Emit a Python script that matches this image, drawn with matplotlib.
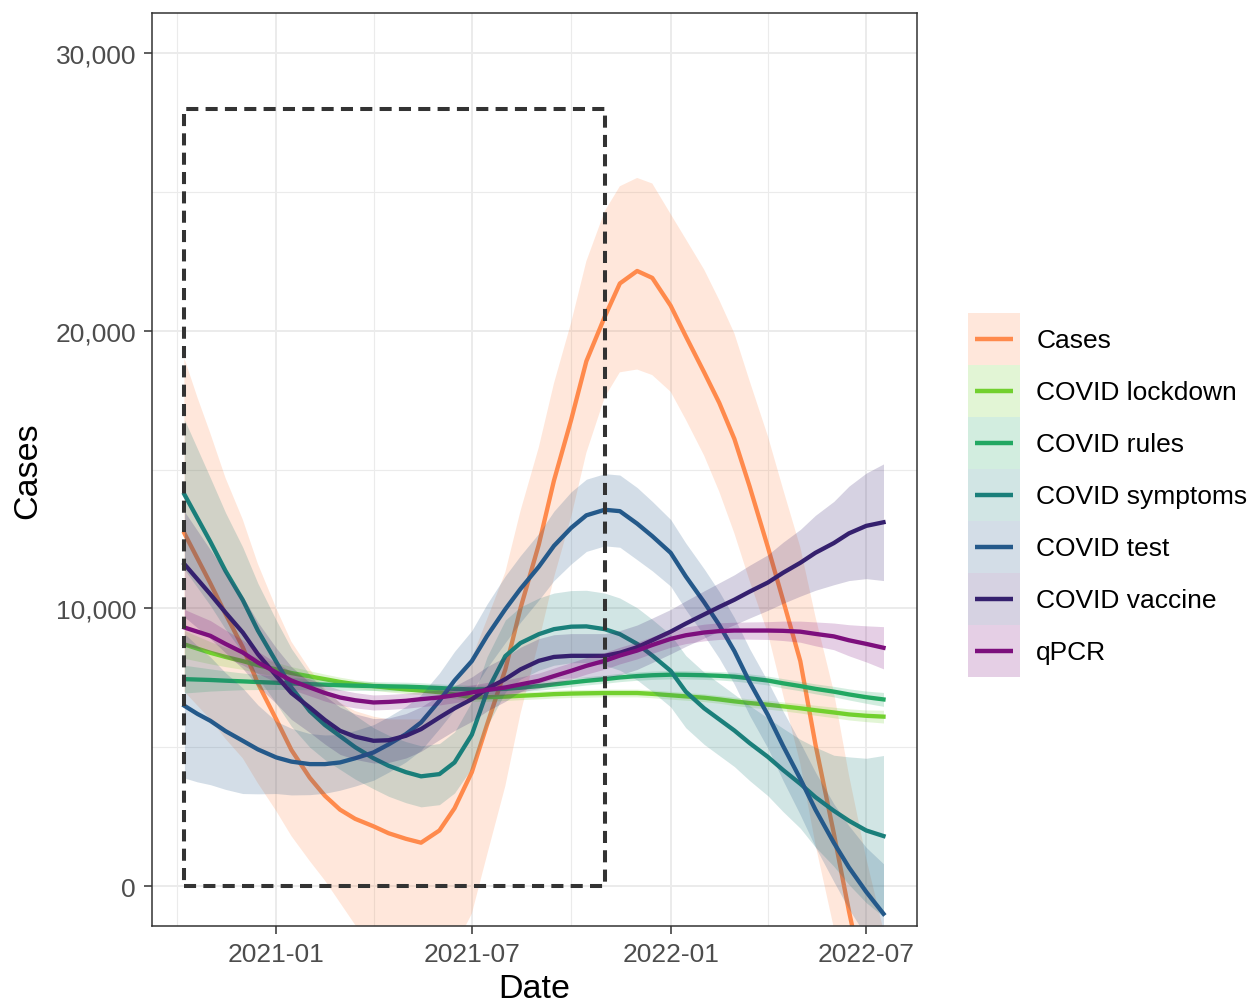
import numpy as np
import pandas as pd
import matplotlib
matplotlib.use('Agg')
import matplotlib.pyplot as plt
import matplotlib.dates as mdates
from matplotlib.patches import Rectangle
from matplotlib.lines import Line2D
from matplotlib.ticker import FuncFormatter, FixedLocator
from matplotlib.legend_handler import HandlerBase

plt.rcParams['font.family'] = ['Liberation Sans', 'DejaVu Sans']

# ---------------- data ----------------
dates = pd.to_datetime([
    '2020-10-08', '2020-10-20', '2020-11-01', '2020-11-15', '2020-12-01', '2020-12-15',
    '2021-01-01', '2021-01-15', '2021-02-01', '2021-02-15', '2021-03-01', '2021-03-15',
    '2021-04-01', '2021-04-15', '2021-05-01', '2021-05-15', '2021-06-01', '2021-06-15',
    '2021-07-01', '2021-07-15', '2021-08-01', '2021-08-15', '2021-09-01', '2021-09-15',
    '2021-10-01', '2021-10-15', '2021-11-01', '2021-11-15', '2021-12-01', '2021-12-15',
    '2022-01-01', '2022-01-15', '2022-02-01', '2022-02-15', '2022-03-01', '2022-03-15',
    '2022-04-01', '2022-04-15', '2022-05-01', '2022-05-15', '2022-06-01', '2022-06-15',
    '2022-07-01', '2022-07-17'])

series_names = ['Cases', 'COVID lockdown', 'COVID rules', 'COVID symptoms',
                'COVID test', 'COVID vaccine', 'qPCR']
series_colors = ['#FF8A4C', '#72D02E', '#22A862', '#1A7F7A', '#24598A', '#35206E', '#7D0F7D']

cases = [12700, 11800, 10900, 9800, 8600, 7300, 6000, 4900, 3900, 3250, 2750, 2420,
         2150, 1900, 1700, 1560, 2000, 2800, 4100, 5800, 7800, 10000, 12300, 14600,
         16800, 18900, 20500, 21700, 22150, 21900, 20900, 19800, 18500, 17400, 16100, 14400,
         12200, 10300, 8100, 5100, 1900, -900, -3800, -6600]
cases_lo = [7000, 6500, 6000, 5300, 4600, 3700, 2700, 1800, 900, 200, -600, -1400,
            -2300, -3000, -3600, -4000, -3600, -2200, -1000, 1100, 3600, 6200, 8800, 11100,
            13300, 15600, 17600, 18500, 18600, 18400, 17800, 16800, 15500, 14200, 12700, 11000,
            9100, 6900, 4400, 1500, -1500, -4500, -8000, -11500]
cases_hi = [19000, 17600, 16300, 14700, 13200, 11600, 10000, 8800, 7800, 7100, 6600, 6300,
            6100, 6000, 6000, 6000, 6500, 7200, 8200, 9600, 11300, 13500, 15800, 18100,
            20300, 22500, 24300, 25200, 25500, 25300, 24200, 23300, 22200, 21100, 19900, 18200,
            16200, 14300, 12200, 9700, 7000, 4000, 1000, -1600]

lockdown = [8700, 8550, 8400, 8250, 8100, 7950, 7800, 7670, 7550, 7450, 7350, 7270,
            7200, 7140, 7080, 7040, 6980, 6900, 6800, 6800, 6820, 6850, 6880, 6910,
            6930, 6940, 6950, 6950, 6950, 6920, 6870, 6830, 6780, 6720, 6650, 6590,
            6530, 6470, 6400, 6330, 6250, 6180, 6130, 6100]
lockdown_ci = [500, 450, 400, 350, 300, 280, 250, 230, 200, 180, 170, 160,
               150, 150, 150, 150, 150, 150, 150, 150, 140, 140, 140, 140,
               140, 140, 140, 140, 140, 140, 140, 140, 140, 140, 150, 150,
               160, 160, 170, 180, 190, 200, 210, 230]

rules = [7450, 7435, 7420, 7395, 7370, 7345, 7320, 7295, 7270, 7250, 7230, 7215,
         7200, 7190, 7180, 7160, 7130, 7100, 7080, 7085, 7100, 7140, 7200, 7260,
         7330, 7390, 7450, 7510, 7560, 7590, 7610, 7605, 7590, 7570, 7540, 7480,
         7400, 7300, 7200, 7100, 7000, 6900, 6800, 6720]
rules_ci = [500, 450, 400, 350, 300, 270, 240, 220, 200, 190, 180, 170,
            160, 160, 160, 160, 150, 150, 150, 150, 150, 150, 150, 150,
            150, 150, 150, 150, 150, 150, 150, 150, 150, 150, 160, 160,
            160, 170, 170, 180, 190, 200, 220, 250]

symptoms = [14100, 13250, 12400, 11350, 10300, 9200, 8070, 7150, 6300, 5800, 5400, 5000,
            4600, 4330, 4100, 3950, 4030, 4450, 5450, 7000, 8280, 8750, 9070, 9250,
            9340, 9350, 9250, 9070, 8720, 8300, 7750, 7000, 6400, 6000, 5600, 5150,
            4650, 4180, 3680, 3200, 2710, 2350, 2000, 1800]
symptoms_ci = [2700, 2500, 2300, 2100, 1900, 1700, 1500, 1400, 1300, 1250, 1200, 1150,
               1100, 1100, 1100, 1100, 1100, 1100, 1200, 1250, 1300, 1300, 1300, 1300,
               1300, 1300, 1300, 1300, 1300, 1300, 1300, 1300, 1300, 1300, 1300, 1350,
               1400, 1500, 1600, 1800, 2000, 2300, 2600, 2900]

test = [6490, 6200, 5950, 5580, 5230, 4920, 4630, 4480, 4390, 4390, 4450, 4600,
        4810, 5100, 5470, 5890, 6670, 7400, 8100, 9000, 9970, 10700, 11500, 12250,
        12900, 13350, 13550, 13500, 13050, 12600, 12000, 11150, 10220, 9400, 8460, 7350,
        6160, 5050, 3860, 2750, 1560, 670, -210, -1000]
test_ci = [2600, 2450, 2300, 2100, 1900, 1600, 1300, 1200, 1100, 1050, 1000, 1000,
           1000, 1000, 1000, 1000, 1000, 1050, 1100, 1150, 1200, 1200, 1200, 1250,
           1300, 1300, 1300, 1300, 1300, 1250, 1200, 1200, 1200, 1200, 1200, 1200,
           1200, 1250, 1300, 1350, 1400, 1500, 1600, 1800]

vaccine = [11590, 11050, 10510, 9850, 9130, 8350, 7570, 6950, 6430, 5980, 5590, 5380,
           5230, 5250, 5410, 5650, 6070, 6400, 6730, 7100, 7450, 7800, 8110, 8250,
           8290, 8290, 8290, 8400, 8600, 8850, 9160, 9450, 9780, 10050, 10310, 10600,
           10930, 11280, 11640, 12000, 12350, 12700, 12970, 13100]
vaccine_ci = [1900, 1750, 1600, 1450, 1300, 1150, 1000, 950, 900, 870, 850, 820,
              800, 800, 800, 800, 800, 800, 800, 800, 800, 800, 800, 800,
              800, 800, 800, 800, 800, 800, 800, 820, 850, 870, 900, 950,
              1000, 1100, 1200, 1350, 1500, 1700, 1900, 2100]

qpcr = [9310, 9160, 9010, 8720, 8410, 8050, 7690, 7400, 7150, 6950, 6790, 6690,
        6610, 6630, 6670, 6730, 6790, 6870, 6970, 7060, 7150, 7260, 7390, 7560,
        7750, 7930, 8110, 8300, 8480, 8680, 8900, 9030, 9130, 9180, 9200, 9200,
        9200, 9190, 9160, 9080, 8990, 8850, 8720, 8580]
qpcr_ci = [650, 600, 550, 500, 450, 400, 350, 320, 300, 290, 280, 275,
           270, 270, 270, 270, 270, 270, 270, 270, 270, 270, 280, 290,
           300, 300, 300, 300, 300, 300, 300, 300, 300, 300, 300, 310,
           320, 350, 380, 430, 480, 560, 650, 760]

box_dates = pd.to_datetime(['2020-10-08', '2021-11-01'])
box_values = [0, 28000]

x_major = pd.to_datetime(['2021-01-01', '2021-07-01', '2022-01-01', '2022-07-01'])
x_minor = pd.to_datetime(['2020-10-01', '2021-04-01', '2021-10-01', '2022-04-01'])
y_major = [0, 10000, 20000, 30000]
y_minor = [5000, 15000, 25000]


class KeyHandler(HandlerBase):
    """ggplot-like legend key: translucent ribbon square with a centred line."""
    def create_artists(self, legend, orig_handle, xdescent, ydescent, width, height,
                       fontsize, trans):
        col = orig_handle.get_color()
        rect = Rectangle((-xdescent, -ydescent), width, height, facecolor=col,
                         alpha=0.2, edgecolor='none', transform=trans)
        yc = -ydescent + height / 2
        line = Line2D([-xdescent + 0.13 * width, -xdescent + 0.87 * width], [yc, yc],
                      color=col, lw=3.2, solid_capstyle='butt', transform=trans)
        return [rect, line]


# ---------------- figure ----------------
W, H = 1252, 1003
fig = plt.figure(figsize=(W / 100, H / 100), dpi=100)
ax = fig.add_axes([152 / W, 1 - 927 / H, (917 - 152) / W, (927 - 14) / H])

mids = [cases, lockdown, rules, symptoms, test, vaccine, qpcr]
cis = [None, lockdown_ci, rules_ci, symptoms_ci, test_ci, vaccine_ci, qpcr_ci]

handles = []
for i, (name, col) in enumerate(zip(series_names, series_colors)):
    m = np.asarray(mids[i], dtype=float)
    if cis[i] is None:
        lo, hi = np.asarray(cases_lo, float), np.asarray(cases_hi, float)
    else:
        c = np.asarray(cis[i], dtype=float)
        lo, hi = m - c, m + c
    ax.fill_between(dates, lo, hi, color=col, alpha=0.2, lw=0, zorder=2 + i * 0.1)
    ax.plot(dates, m, color=col, lw=3.1, solid_joinstyle='round', zorder=2.05 + i * 0.1)
    handles.append(Line2D([0], [0], color=col, lw=3.2))

# dashed box
bx0 = mdates.date2num(box_dates[0])
bx1 = mdates.date2num(box_dates[1])
ax.add_patch(Rectangle((bx0, box_values[0]), bx1 - bx0, box_values[1] - box_values[0],
                       fill=False, edgecolor='#333333', lw=2.9, ls=(0, (3.0, 1.8)), zorder=5))

ax.set_xlim(pd.Timestamp('2020-09-08'), pd.Timestamp('2022-08-17'))
ax.set_ylim(-1440, 31440)

ax.xaxis.set_major_locator(FixedLocator(mdates.date2num(x_major)))
ax.xaxis.set_minor_locator(FixedLocator(mdates.date2num(x_minor)))
ax.xaxis.set_major_formatter(mdates.DateFormatter('%Y-%m'))
ax.yaxis.set_major_locator(FixedLocator(y_major))
ax.yaxis.set_minor_locator(FixedLocator(y_minor))
ax.yaxis.set_major_formatter(FuncFormatter(lambda v, p: f'{int(v):,}'))

ax.set_axisbelow(True)
ax.grid(which='major', color='#EBEBEB', lw=1.4, zorder=0)
ax.grid(which='minor', color='#EBEBEB', lw=0.8, zorder=0)
for s in ax.spines.values():
    s.set_color('#333333')
    s.set_linewidth(1.1)
    s.set_zorder(6)

ax.tick_params(which='major', labelsize=19, labelcolor='#4D4D4D', color='#333333',
               length=5.5, width=1.1, pad=6)
ax.tick_params(which='minor', length=0)

ax.set_xlabel('Date', fontsize=24.5, labelpad=5)
ax.set_ylabel('Cases', fontsize=24.5, labelpad=9)

fs = 19
key_pt = 52 * 72 / 100          # key box size in points
hh = (key_pt / fs - 0.245) / 0.65
leg = fig.legend(handles, series_names, handler_map={Line2D: KeyHandler()},
                 loc='upper left', bbox_to_anchor=(968 / W, 1 - 314 / H),
                 bbox_transform=fig.transFigure, frameon=False, fontsize=fs,
                 handlelength=key_pt / fs, handleheight=hh,
                 labelspacing=0, handletextpad=0.62, borderpad=0, borderaxespad=0)

fig.savefig('out.png', dpi=100)
